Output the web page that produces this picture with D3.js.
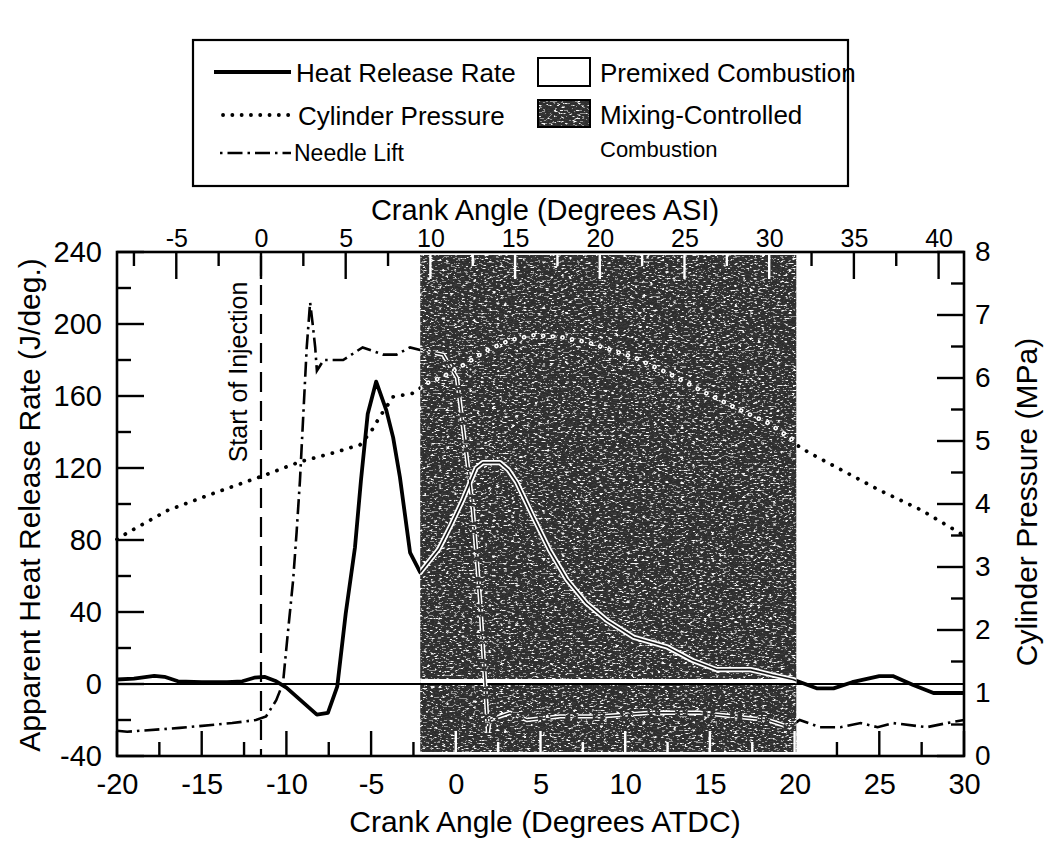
<!DOCTYPE html>
<html lang="en">
<head>
<meta charset="UTF-8">
<title>Heat Release Rate, Cylinder Pressure and Needle Lift</title>
<script src="https://d3js.org/d3.v7.min.js"></script>
<style>
  body { margin: 0; background: #fff; }
  svg { display: block; font-family: "Liberation Sans", Arial, Helvetica, sans-serif; }
</style>
</head>
<body>
<svg width="1044" height="842"></svg>
<script>
// Apparent heat release rate (J/deg) vs crank angle (deg ATDC)
const hrrAngle = [-20, -19, -17.8, -17.2, -16.4, -15, -13.5, -12.6, -11.9, -11.3, -10.6, -10, -9.4, -8.8, -8.2, -7.55, -7,
  -6.5, -5.95, -5.6, -5.2, -4.7, -4.1, -3.7, -3.3, -2.7, -2.1, -1, -0.3, 0.4, 1.2, 1.6, 2.6, 3.1, 3.6, 4.56, 5.56,
  6.56, 7.7, 8.9, 10.5, 12.5, 14, 15.4, 17.4, 18.7, 19.9, 21.3, 22.3, 23.4, 25, 25.8, 27, 28.2, 30];
const hrrValue = [2.5, 3, 4.5, 4, 1.5, 1, 1, 1.5, 3.5, 4, 1.5, -2, -7, -12, -17, -16, -1.5,
  39, 76, 113, 150, 168, 152, 137, 115, 73, 62, 75, 88, 102, 120, 123, 123, 119, 112, 93, 74,
  58, 45, 35.5, 26, 20.5, 13, 8, 8, 5, 2.5, -2.4, -2.4, 1, 4.4, 4.4, -0.5, -5, -5];

// Cylinder pressure (MPa)
const presAngle = [-20, -19.4, -17, -14.3, -11.56, -9.2, -7.25, -5.65, -5, -4.5, -3.7, -2.5, -1.7, -0.75, 0.66, 1.84,
  3.2, 4.56, 6.15, 7.75, 10.5, 12.5, 14.4, 16.4, 18.4, 19.7, 20.3, 21.3, 25, 27.5, 30];
const presValue = [3.44, 3.54, 3.9, 4.17, 4.43, 4.67, 4.81, 4.94, 5.15, 5.38, 5.7, 5.76, 5.92, 6.02, 6.24, 6.44,
  6.6, 6.68, 6.65, 6.57, 6.33, 6.08, 5.81, 5.54, 5.29, 5.06, 4.9, 4.75, 4.22, 3.9, 3.5];

// Needle lift (arbitrary units, drawn on the heat release axis)
const needleAngle = [-20, -19.4, -16.3, -13.2, -11.8, -11.2, -10.6, -10.2, -9.96, -9.6, -9.4, -9.2, -9, -8.8, -8.6,
  -8.45, -8.3, -8.2, -7.8, -6.65, -5.5, -4.3, -3.5, -2.7, -2.1, -0.75, 0.07, 0.96, 1.43, 1.72, 1.9, 2, 3.2, 4.2,
  6.15, 8.5, 11.5, 14.4, 16.4, 18.4, 19.7, 20.3, 21.5, 22.7, 23.9, 24.9, 25.8, 27.8, 29, 30];
const needleValue = [-26, -26.5, -24.4, -21.7, -20, -18, -9, 0.5, 24, 58, 84, 113, 150, 187, 212,
  200, 187, 174, 180, 180, 187, 183, 183, 187, 185.5, 183, 170, 102, 47, 2, -27, -20, -16, -20,
  -18, -18, -16, -16, -18, -20, -24, -20, -24, -24, -21.7, -24, -21.7, -24, -21.7, -20];

const startOfInjection = -11.5;      // deg ATDC (0 deg ASI)
const mixingStart = -2.1, mixingEnd = 20.1;

const bottomTicks = [-20, -15, -10, -5, 0, 5, 10, 15, 20, 25, 30];
const bottomMinor = [-17.5, -12.5, -7.5, -2.5, 2.5, 7.5, 12.5, 17.5, 22.5, 27.5];
const topTicks = [-5, 0, 5, 10, 15, 20, 25, 30, 35, 40];
const topMinor = [-7.5, -2.5, 2.5, 7.5, 12.5, 17.5, 22.5, 27.5, 32.5, 37.5];
const leftTicks = [-40, 0, 40, 80, 120, 160, 200, 240];
const leftMinor = [-20, 20, 60, 100, 140, 180, 220];
const rightTicks = [0, 1, 2, 3, 4, 5, 6, 7, 8];
const rightMinor = [0.5, 1.5, 2.5, 3.5, 4.5, 5.5, 6.5, 7.5];

const svg = d3.select("svg");
const width = 1044, height = 842;
const margin = {top: 252, right: 80, bottom: 86, left: 117};
const plotBottom = height - margin.bottom, plotRight = width - margin.right;

const x = d3.scaleLinear().domain([-20, 30]).range([margin.left, plotRight]);
const xTop = d3.scaleLinear().domain([-20 - startOfInjection, 30 - startOfInjection]).range([margin.left, plotRight]);
const yL = d3.scaleLinear().domain([-40, 240]).range([plotBottom, margin.top]);
const yR = d3.scaleLinear().domain([0, 8]).range([plotBottom, margin.top]);

const defs = svg.append("defs");

// grainy scanned-looking shading, kept inside the shape it is applied to
const grain = defs.append("filter").attr("id", "grain")
  .attr("x", 0).attr("y", 0).attr("width", 1).attr("height", 1);
grain.append("feTurbulence").attr("type", "fractalNoise").attr("baseFrequency", "0.26 0.6")
  .attr("numOctaves", 2).attr("seed", 7).attr("result", "noise");
grain.append("feColorMatrix").attr("in", "noise").attr("type", "matrix")
  .attr("values", "1 0 0 0 0  1 0 0 0 0  1 0 0 0 0  0 0 0 0 1").attr("result", "gray");
const ct = grain.append("feComponentTransfer").attr("in", "gray").attr("result", "speck");
["feFuncR", "feFuncG", "feFuncB"].forEach(f =>
  ct.append(f).attr("type", "discrete").attr("tableValues", "0.03 0.03 0.03 0.03 0.03 0.04 0.3 0.9 1 1"));
grain.append("feComposite").attr("in", "speck").attr("in2", "SourceAlpha").attr("operator", "in");

const band = {x: x(mixingStart), y: margin.top + 3, w: x(mixingEnd) - x(mixingStart), h: plotBottom - margin.top - 7};
defs.append("clipPath").attr("id", "mixClip").append("rect")
  .attr("x", band.x).attr("y", band.y).attr("width", band.w).attr("height", band.h);

// mixing-controlled shaded band
svg.append("rect").attr("x", band.x).attr("y", band.y).attr("width", band.w).attr("height", band.h)
  .attr("fill", "#000").attr("filter", "url(#grain)");

const inBand = v => v > mixingStart && v < mixingEnd;

// tick labels from d3 axes
const axisList = [
  {ax: d3.axisBottom(x), vals: bottomTicks, pad: 17, tr: `translate(0,${plotBottom})`, fs: 29},
  {ax: d3.axisTop(xTop), vals: topTicks, pad: 5, tr: `translate(0,${margin.top})`, fs: 25},
  {ax: d3.axisLeft(yL), vals: leftTicks, pad: 15, tr: `translate(${margin.left},0)`, fs: 29},
  {ax: d3.axisRight(yR), vals: rightTicks, pad: 11, tr: `translate(${plotRight},0)`, fs: 28}
];
axisList.forEach(a => {
  a.ax.tickValues(a.vals).tickSize(0).tickPadding(a.pad).tickFormat(d => String(d));
  const g = svg.append("g").attr("transform", a.tr).call(a.ax);
  g.select(".domain").remove();
  g.selectAll(".tick line").remove();
  g.attr("font-family", null).attr("font-size", a.fs);
  g.selectAll("text").attr("fill", "#000");
});

// tick marks pointing into the frame, placed through the same scales
const tickMarks = [];
bottomTicks.forEach(v => tickMarks.push({x1: x(v), x2: x(v), y1: plotBottom, y2: plotBottom - 25, w: inBand(v)}));
bottomMinor.forEach(v => tickMarks.push({x1: x(v), x2: x(v), y1: plotBottom, y2: plotBottom - 14, w: inBand(v)}));
topTicks.forEach(v => tickMarks.push({x1: xTop(v), x2: xTop(v), y1: margin.top, y2: margin.top + 27,
  w: inBand(v + startOfInjection)}));
topMinor.forEach(v => tickMarks.push({x1: xTop(v), x2: xTop(v), y1: margin.top, y2: margin.top + 14,
  w: inBand(v + startOfInjection)}));
leftTicks.forEach(v => tickMarks.push({x1: margin.left, x2: margin.left + 27, y1: yL(v), y2: yL(v), w: false}));
leftMinor.forEach(v => tickMarks.push({x1: margin.left, x2: margin.left + 14, y1: yL(v), y2: yL(v), w: false}));
rightTicks.forEach(v => tickMarks.push({x1: plotRight, x2: plotRight - 27, y1: yR(v), y2: yR(v), w: false}));
rightMinor.forEach(v => tickMarks.push({x1: plotRight, x2: plotRight - 13, y1: yR(v), y2: yR(v), w: false}));

svg.selectAll("line.tickmark").data(tickMarks).enter().append("line")
  .attr("class", "tickmark")
  .attr("x1", d => d.x1).attr("x2", d => d.x2).attr("y1", d => d.y1).attr("y2", d => d.y2)
  .attr("stroke", d => d.w ? "#fff" : "#000").attr("stroke-width", 2.4);

// zero line
svg.append("line").attr("x1", margin.left).attr("x2", plotRight)
  .attr("y1", yL(0)).attr("y2", yL(0)).attr("stroke", "#000").attr("stroke-width", 2);

// start of injection
svg.append("line").attr("x1", x(startOfInjection)).attr("x2", x(startOfInjection))
  .attr("y1", margin.top + 4).attr("y2", plotBottom)
  .attr("stroke", "#000").attr("stroke-width", 2.2).attr("stroke-dasharray", "20,9");
svg.append("text").attr("transform", `translate(${x(startOfInjection) - 14},372) rotate(-90)`)
  .attr("text-anchor", "middle").attr("font-size", 25).text("Start of Injection");

const hrrLine = d3.line().x((d, i) => x(hrrAngle[i])).y(d => yL(d));
const presLine = d3.line().x((d, i) => x(presAngle[i])).y(d => yR(d));
const needleLine = d3.line().x((d, i) => x(needleAngle[i])).y(d => yL(d));

const dotted = "0.1,9.6", dashDot = "15,5,2.5,5";

function curves(layer, style) {
  layer.append("path").attr("d", presLine(presValue)).attr("fill", "none")
    .attr("stroke", style.pres[0]).attr("stroke-width", style.pres[1])
    .attr("stroke-linecap", "round").attr("stroke-dasharray", dotted);
  layer.append("path").attr("d", needleLine(needleValue)).attr("fill", "none")
    .attr("stroke", style.needle[0]).attr("stroke-width", style.needle[1])
    .attr("stroke-dasharray", dashDot);
  layer.append("path").attr("d", hrrLine(hrrValue)).attr("fill", "none")
    .attr("stroke", style.hrr[0]).attr("stroke-width", style.hrr[1]).attr("stroke-linejoin", "round");
}

curves(svg.append("g"), {pres: ["#000", 3.8], needle: ["#000", 2.6], hrr: ["#000", 3.8]});

// inside the shaded band the curves show up white
const mix = svg.append("g").attr("clip-path", "url(#mixClip)");
mix.append("line").attr("x1", margin.left).attr("x2", plotRight)
  .attr("y1", yL(0) - 3).attr("y2", yL(0) - 3).attr("stroke", "#fff").attr("stroke-width", 4);
mix.append("line").attr("x1", margin.left).attr("x2", plotRight)
  .attr("y1", yL(0)).attr("y2", yL(0)).attr("stroke", "#000").attr("stroke-width", 2);
curves(mix, {pres: ["#fff", 4.6], needle: ["#fff", 4.4], hrr: ["#fff", 5.2]});
curves(mix, {pres: ["#222", 1.4], needle: ["#222", 1.4], hrr: ["#1a1a1a", 1.6]});

// frame
svg.append("rect").attr("x", margin.left).attr("y", margin.top)
  .attr("width", plotRight - margin.left).attr("height", plotBottom - margin.top)
  .attr("fill", "none").attr("stroke", "#000").attr("stroke-width", 2.6);

// axis titles
svg.append("text").attr("x", 545).attr("y", 220).attr("text-anchor", "middle")
  .attr("font-size", 29).text("Crank Angle (Degrees ASI)");
svg.append("text").attr("x", 545).attr("y", 832).attr("text-anchor", "middle")
  .attr("font-size", 30).text("Crank Angle (Degrees ATDC)");
svg.append("text").attr("transform", "translate(40,505) rotate(-90)").attr("text-anchor", "middle")
  .attr("font-size", 30).text("Apparent Heat Release Rate (J/deg.)");
svg.append("text").attr("transform", "translate(1037,502) rotate(-90)").attr("text-anchor", "middle")
  .attr("font-size", 30).text("Cylinder Pressure (MPa)");

// legend
const legend = svg.append("g");
legend.append("rect").attr("x", 193).attr("y", 40).attr("width", 655).attr("height", 146)
  .attr("fill", "#fff").attr("stroke", "#000").attr("stroke-width", 2.2);
legend.append("line").attr("x1", 214).attr("x2", 291).attr("y1", 72).attr("y2", 72)
  .attr("stroke", "#000").attr("stroke-width", 4);
legend.append("line").attr("x1", 223).attr("x2", 293).attr("y1", 115).attr("y2", 115)
  .attr("stroke", "#000").attr("stroke-width", 3.8).attr("stroke-linecap", "round").attr("stroke-dasharray", "0.1,9.2");
legend.append("line").attr("x1", 220).attr("x2", 291).attr("y1", 153).attr("y2", 153)
  .attr("stroke", "#000").attr("stroke-width", 2.6).attr("stroke-dasharray", "2.5,5,15,5");
legend.append("rect").attr("x", 538).attr("y", 58).attr("width", 52).attr("height", 28)
  .attr("fill", "#fff").attr("stroke", "#000").attr("stroke-width", 2);
legend.append("rect").attr("x", 538).attr("y", 100).attr("width", 52).attr("height", 27)
  .attr("fill", "#000").attr("filter", "url(#grain)");
legend.append("rect").attr("x", 538).attr("y", 100).attr("width", 52).attr("height", 27)
  .attr("fill", "none").attr("stroke", "#000").attr("stroke-width", 2);

const legendText = [
  ["Heat Release Rate", 296, 82, 26],
  ["Cylinder Pressure", 298, 125, 26],
  ["Needle Lift", 294, 161, 23],
  ["Premixed Combustion", 600, 82, 26],
  ["Mixing-Controlled", 600, 124, 26],
  ["Combustion", 600, 157, 22]
];
legend.selectAll("text.item").data(legendText).enter().append("text")
  .attr("class", "item")
  .attr("x", d => d[1]).attr("y", d => d[2]).attr("font-size", d => d[3]).text(d => d[0]);
</script>
</body>
</html>
